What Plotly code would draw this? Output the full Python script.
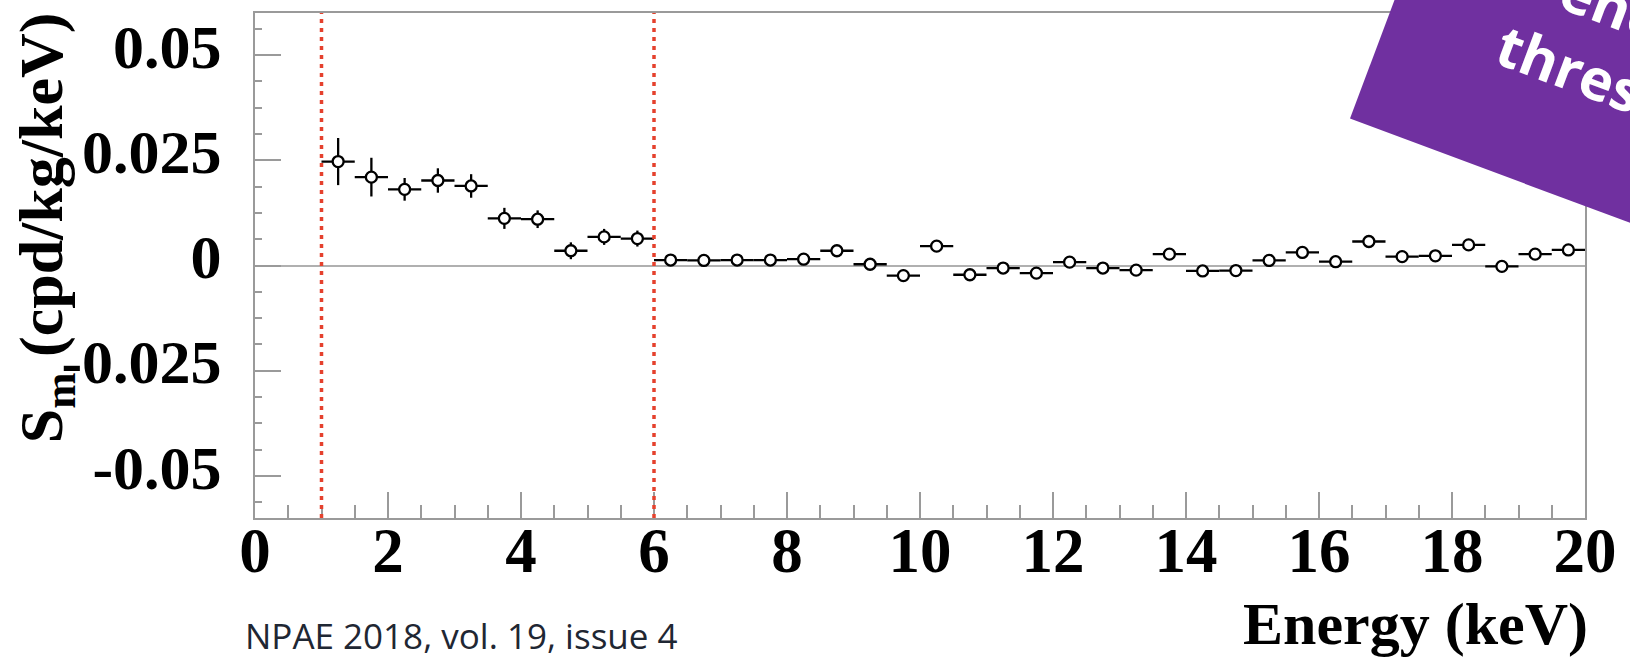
import math
import plotly.graph_objects as go

# ---------------- data ----------------
energy_keV = [1.25, 1.75, 2.25, 2.75, 3.25, 3.75, 4.25, 4.75, 5.25, 5.75,
              6.25, 6.75, 7.25, 7.75, 8.25, 8.75, 9.25, 9.75, 10.25, 10.75,
              11.25, 11.75, 12.25, 12.75, 13.25, 13.75, 14.25, 14.75, 15.25, 15.75,
              16.25, 16.75, 17.25, 17.75, 18.25, 18.75, 19.25, 19.75]
sm_values = [0.0247, 0.0210, 0.0181, 0.0202, 0.0189, 0.0112, 0.0110, 0.0035, 0.0068, 0.0064,
             0.0013, 0.0012, 0.0013, 0.0013, 0.0015, 0.0035, 0.0003, -0.0024, 0.0046, -0.0022,
             -0.0006, -0.0018, 0.0008, -0.0006, -0.0011, 0.0027, -0.0013, -0.0012, 0.0012, 0.0031,
             0.0009, 0.0057, 0.0021, 0.0023, 0.0049, -0.0002, 0.0027, 0.0037]
sm_errors = [0.0056, 0.0046, 0.0027, 0.0029, 0.0028, 0.0025, 0.0021, 0.0020, 0.0019, 0.0019,
             0.0014, 0.0014, 0.0014, 0.0014, 0.0014, 0.0014, 0.0014, 0.0014, 0.0014, 0.0014,
             0.0014, 0.0014, 0.0014, 0.0014, 0.0014, 0.0014, 0.0014, 0.0014, 0.0014, 0.0014,
             0.0014, 0.0014, 0.0014, 0.0014, 0.0014, 0.0014, 0.0014, 0.0014]
bin_half_width = [0.25] * len(energy_keV)
threshold_lines_keV = [1, 6]

x_tick_vals = [0, 2, 4, 6, 8, 10, 12, 14, 16, 18, 20]
x_tick_text = ["0", "2", "4", "6", "8", "10", "12", "14", "16", "18", "20"]
y_tick_vals = [-0.05, -0.025, 0, 0.025, 0.05]
y_tick_text = ["-0.05", "-0.025", "0", "0.025", "0.05"]

banner_text = "energy<br>threshold"
source_text = "NPAE 2018, vol. 19, issue 4"

# ---------------- layout geometry ----------------
W, H = 1630, 657
ML, MR, MT, MB = 255, 45, 11, 139
PW, PH = W - ML - MR, H - MT - MB


def px_to_paper(px, py):
    return (px - ML) / PW, 1 - (py - MT) / PH


serif = "Liberation Serif, Times New Roman, serif"
axis_grey = "#9a9a9a"

fig = go.Figure()
fig.add_trace(go.Scatter(
    x=energy_keV, y=sm_values, mode="markers", showlegend=False,
    marker=dict(symbol="circle", size=11, color="white",
                line=dict(color="black", width=2.3)),
    error_y=dict(type="data", array=sm_errors, color="black", thickness=2.3, width=0),
    error_x=dict(type="data", array=bin_half_width, color="black", thickness=2.3, width=0),
))

shapes = []
for xv in threshold_lines_keV:
    shapes.append(dict(type="line", xref="x", yref="y", x0=xv, x1=xv, y0=-0.06, y1=0.06,
                       line=dict(color="#e5412d", width=3.5, dash="4px,5px"), layer="above"))

# purple rotated banner (pixel corners -> paper)
th = math.radians(20.5)
u = (math.cos(th), math.sin(th))
nup = (math.sin(th), -math.cos(th))
bl = (1350, 117)
tl = (bl[0] + nup[0] * 320, bl[1] + nup[1] * 320)
br = (bl[0] + u[0] * 750, bl[1] + u[1] * 750)
tr = (br[0] + nup[0] * 320, br[1] + nup[1] * 320)
pts = [px_to_paper(*p) for p in (bl, br, tr, tl)]
path = "M " + " L ".join(f"{a:.5f},{b:.5f}" for a, b in pts) + " Z"
shapes.append(dict(type="path", xref="paper", yref="paper", path=path,
                   fillcolor="#7030A0", line=dict(width=0), layer="above"))

annotations = []
bx, by = px_to_paper(1642, 53)
annotations.append(dict(text=banner_text, xref="paper", yref="paper", x=bx, y=by,
                        xanchor="center", yanchor="middle", showarrow=False, textangle=20.5,
                        align="center",
                        font=dict(family="Open Sans", size=57, color="white", weight="bold")))
# y title
tx, ty = px_to_paper(45, 227)
annotations.append(dict(text="S<sub>m</sub> (cpd/kg/keV)", xref="paper", yref="paper",
                        x=tx, y=ty, xanchor="center", yanchor="middle", showarrow=False,
                        textangle=-90,
                        font=dict(family=serif, size=62, color="black", weight="bold")))
# x title
xx, xy = px_to_paper(1590, 624)
annotations.append(dict(text="Energy (keV)", xref="paper", yref="paper", x=xx, y=xy,
                        xanchor="right", yanchor="middle", showarrow=False,
                        font=dict(family=serif, size=60, color="black", weight="bold")))
# source
sx, sy = px_to_paper(243, 636)
annotations.append(dict(text=source_text, xref="paper", yref="paper", x=sx, y=sy,
                        xanchor="left", yanchor="middle", showarrow=False,
                        font=dict(family="Open Sans", size=35, color="#1f2733")))

fig.update_layout(
    width=W, height=H, margin=dict(l=ML, r=MR, t=MT, b=MB, pad=0),
    paper_bgcolor="white", plot_bgcolor="white",
    shapes=shapes, annotations=annotations,
    xaxis=dict(range=[0, 20], tickmode="array", tickvals=x_tick_vals, ticktext=x_tick_text,
               ticks="inside", ticklen=26, tickwidth=2, tickcolor=axis_grey,
               showline=True, linecolor=axis_grey, linewidth=2, mirror=True,
               showgrid=False, zeroline=False, ticklabelstandoff=-24,
               tickfont=dict(family=serif, size=63, color="black", weight="bold"),
               minor=dict(tickmode="linear", tick0=0, dtick=0.5, ticks="inside", ticklen=13,
                          tickwidth=2, tickcolor=axis_grey, showgrid=False)),
    yaxis=dict(range=[-0.06, 0.06], tickmode="array", tickvals=y_tick_vals, ticktext=y_tick_text,
               ticks="inside", ticklen=26, tickwidth=2, tickcolor=axis_grey,
               showline=True, linecolor=axis_grey, linewidth=2, mirror=True,
               showgrid=False, zeroline=True, zerolinecolor="#b0b0b0", zerolinewidth=1.5,
               ticklabelstandoff=19, ticklabelshift=-9,
               tickfont=dict(family=serif, size=62, color="black", weight="bold"),
               minor=dict(tickmode="linear", tick0=0, dtick=0.00625, ticks="inside", ticklen=7,
                          tickwidth=2, tickcolor=axis_grey, showgrid=False)),
)

fig.write_html("out.html")
